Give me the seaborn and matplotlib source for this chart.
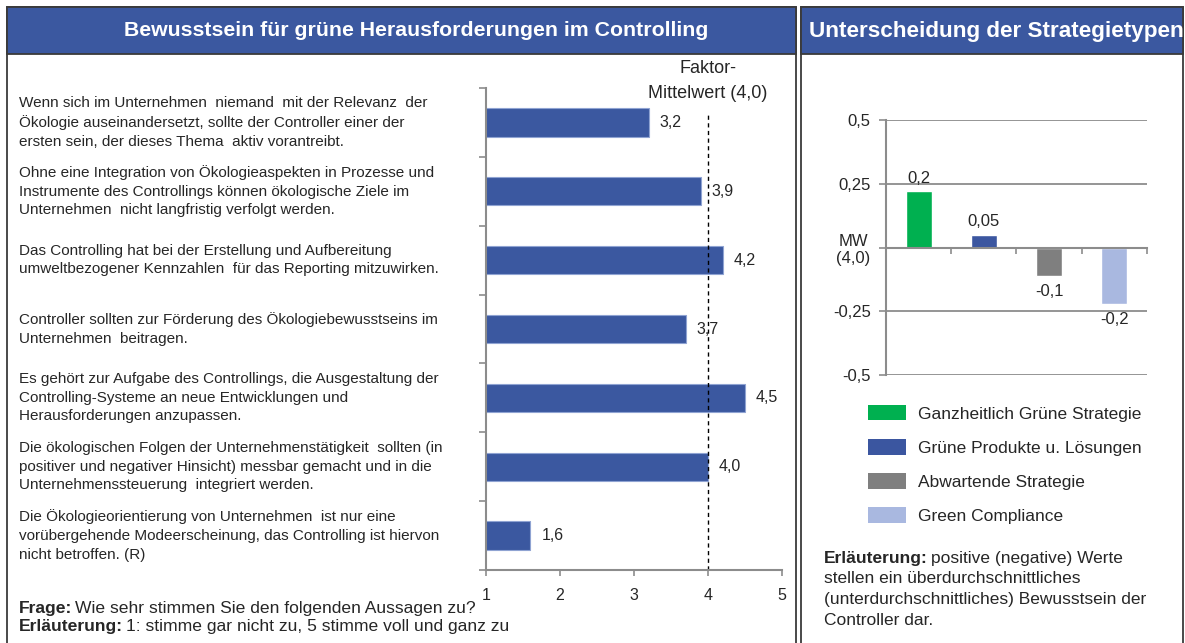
import matplotlib.pyplot as plt
import seaborn as sns
import pandas as pd
from matplotlib.patches import Rectangle, Patch
from matplotlib.transforms import blended_transform_factory

# Left panel: agreement with statements (1-5 scale)
statements = [
    "Wenn sich im Unternehmen  niemand  mit der Relevanz  der\nÖkologie auseinandersetzt, sollte der Controller einer der\nersten sein, der dieses Thema  aktiv vorantreibt.",
    "Ohne eine Integration von Ökologieaspekten in Prozesse und\nInstrumente des Controllings können ökologische Ziele im\nUnternehmen  nicht langfristig verfolgt werden.",
    "Das Controlling hat bei der Erstellung und Aufbereitung\numweltbezogener Kennzahlen  für das Reporting mitzuwirken.",
    "Controller sollten zur Förderung des Ökologiebewusstseins im\nUnternehmen  beitragen.",
    "Es gehört zur Aufgabe des Controllings, die Ausgestaltung der\nControlling-Systeme an neue Entwicklungen und\nHerausforderungen anzupassen.",
    "Die ökologischen Folgen der Unternehmenstätigkeit  sollten (in\npositiver und negativer Hinsicht) messbar gemacht und in die\nUnternehmenssteuerung  integriert werden.",
    "Die Ökologieorientierung von Unternehmen  ist nur eine\nvorübergehende Modeerscheinung, das Controlling ist hiervon\nnicht betroffen. (R)",
]
scores = [3.2, 3.9, 4.2, 3.7, 4.5, 4.0, 1.6]
score_labels = ["3,2", "3,9", "4,2", "3,7", "4,5", "4,0", "1,6"]
factor_mean = 4.0
x_ticks = [1, 2, 3, 4, 5]

# Right panel: deviation from the mean by strategy type
strategies = ["Ganzheitlich Grüne Strategie", "Grüne Produkte u. Lösungen",
              "Abwartende Strategie", "Green Compliance"]
deviations = [0.22, 0.05, -0.11, -0.22]
deviation_labels = ["0,2", "0,05", "-0,1", "-0,2"]
y_ticks = [-0.5, -0.25, 0, 0.25, 0.5]
y_tick_labels = ["-0,5", "-0,25", "MW\n(4,0)", "0,25", "0,5"]

BLUE = "#3B58A0"
strategy_colors = ["#00B050", "#3B56A0", "#7F7F7F", "#A9B8E0"]
AXIS_GRAY = "#8C8C8C"
BORDER = "#3A3A3A"

sns.set_theme(style="white")
plt.rcParams["font.family"] = ["Liberation Sans", "DejaVu Sans"]

W, H = 1185, 643
fig = plt.figure(figsize=(W / 100, H / 100), dpi=100)


def px_box(x0, y0, x1, y1):
    # pixel box (top-left origin) -> figure fraction [left, bottom, width, height]
    return [x0 / W, 1 - y1 / H, (x1 - x0) / W, (y1 - y0) / H]


def fx(x):
    return x / W


def fy(y):
    return 1 - y / H


# panel frames and title bars
for x0, x1 in [(7, 796), (801, 1183)]:
    fig.patches.append(Rectangle((fx(x0), fy(700)), fx(x1) - fx(x0), fy(7) - fy(700),
                                 transform=fig.transFigure, facecolor="white",
                                 edgecolor=BORDER, linewidth=1.3, zorder=-2))
    fig.patches.append(Rectangle((fx(x0), fy(54)), fx(x1) - fx(x0), fy(7) - fy(54),
                                 transform=fig.transFigure, facecolor=BLUE,
                                 edgecolor=BORDER, linewidth=1.3, zorder=-1))

fig.text(fx(416), fy(31), "Bewusstsein für grüne Herausforderungen im Controlling",
         color="white", fontsize=15.3, fontweight="bold", ha="center", va="center")
fig.text(fx(809), fy(31), "Unterscheidung der Strategietypen",
         color="white", fontsize=16.2, fontweight="bold", ha="left", va="center")

# ---- left bar chart ----
ax1 = fig.add_axes(px_box(486, 88, 782, 570))
df1 = pd.DataFrame({"item": [str(i) for i in range(len(scores))], "score": scores})
sns.barplot(data=df1, x="score", y="item", orient="h", color=BLUE, width=0.41,
            edgecolor="#8FA3D2", linewidth=0.8, ax=ax1, saturation=1)
ax1.set_xlim(1, 5)
ax1.set_xticks(x_ticks)
ax1.set_xticklabels([str(t) for t in x_ticks], fontsize=11.5)
ax1.set_yticks([])
ax1.set_yticks([i - 0.5 for i in range(len(scores) + 1)], minor=True)
ax1.set_xlabel("")
ax1.set_ylabel("")
for side in ["top", "right"]:
    ax1.spines[side].set_visible(False)
for side in ["left", "bottom"]:
    ax1.spines[side].set_color(AXIS_GRAY)
    ax1.spines[side].set_linewidth(1.5)
ax1.tick_params(axis="x", which="major", direction="out", length=4, width=1.2,
                color=AXIS_GRAY, pad=9, bottom=True)
ax1.tick_params(axis="y", which="minor", direction="out", length=5, width=1.2,
                color=AXIS_GRAY, left=True)
ax1.axvline(factor_mean, ymin=0, ymax=(570 - 115) / 482, color="black",
            linestyle=(0, (3, 2.5)), linewidth=1)

for i, (v, lab) in enumerate(zip(scores, score_labels)):
    ax1.annotate(lab, (v, i), xytext=(8, 0), textcoords="offset points",
                 ha="left", va="center", fontsize=11.5)

trans = blended_transform_factory(fig.transFigure, ax1.transData)
for i, s in enumerate(statements):
    ax1.text(fx(19), i, s, transform=trans, ha="left", va="center",
             fontsize=11, linespacing=1.42, clip_on=False)

fig.text(fx(708), fy(81), "Faktor-\nMittelwert (4,0)", ha="center", va="center",
         fontsize=13, linespacing=1.55)


def rich_line(x, y, bold, rest, size):
    t = fig.text(x, y, bold, fontweight="bold", fontsize=size, ha="left", va="center")
    r = fig.canvas.get_renderer()
    bb = t.get_window_extent(renderer=r)
    fig.text(x + bb.width / W + 3 / W, y, rest, fontsize=size, ha="left", va="center")


rich_line(fx(19), fy(608), "Frage:", "Wie sehr stimmen Sie den folgenden Aussagen zu?", 12.6)
rich_line(fx(19), fy(627), "Erläuterung:", "1: stimme gar nicht zu, 5 stimme voll und ganz zu", 12.6)

# ---- right bar chart ----
ax2 = fig.add_axes(px_box(886, 120, 1147, 375))
df2 = pd.DataFrame({"strategy": strategies, "deviation": deviations})
sns.barplot(data=df2, x="strategy", y="deviation", hue="strategy",
            palette=strategy_colors, width=0.4, legend=False, ax=ax2, saturation=1)
ax2.set_ylim(-0.5, 0.5)
ax2.set_xlim(-0.5, len(strategies) - 0.5)
ax2.set_yticks(y_ticks)
ax2.set_yticklabels(y_tick_labels, fontsize=12, multialignment="center")
ax2.set_xticks([])
ax2.set_xticks([i + 0.5 for i in range(len(strategies))], minor=True)
ax2.set_xlabel("")
ax2.set_ylabel("")
for yv in [-0.5, -0.25, 0.25, 0.5]:
    ax2.axhline(yv, color=AXIS_GRAY, linewidth=1.3, zorder=0)
ax2.spines["top"].set_visible(False)
ax2.spines["right"].set_visible(False)
ax2.spines["bottom"].set_position(("data", 0))
for side in ["left", "bottom"]:
    ax2.spines[side].set_color(AXIS_GRAY)
    ax2.spines[side].set_linewidth(1.5)
ax2.tick_params(axis="y", which="major", direction="out", length=5, width=1.2,
                color=AXIS_GRAY, left=True, pad=6)
ax2.tick_params(axis="x", which="minor", direction="out", length=4, width=1.2,
                color=AXIS_GRAY, bottom=True)

for i, (v, lab) in enumerate(zip(deviations, deviation_labels)):
    off = 4 if v >= 0 else -6
    ax2.annotate(lab, (i, v), xytext=(0, off), textcoords="offset points",
                 ha="center", va="bottom" if v >= 0 else "top", fontsize=12)

handles = [Patch(facecolor=c, edgecolor="none") for c in strategy_colors]
fig.legend(handles, strategies, loc="upper left", bbox_to_anchor=(fx(861), fy(398)),
           frameon=False, fontsize=12.5, handlelength=2.2, handleheight=1.0,
           handletextpad=0.7, labelspacing=1.0, borderaxespad=0)

rich_line(fx(824), fy(559), "Erläuterung:", "positive (negative) Werte", 12.5)
fig.text(fx(824), fy(571), "stellen ein überdurchschnittliches\n(unterdurchschnittliches) Bewusstsein der\nController dar.",
         fontsize=12.5, ha="left", va="top", linespacing=1.5)

fig.savefig("out.png", dpi=100)
